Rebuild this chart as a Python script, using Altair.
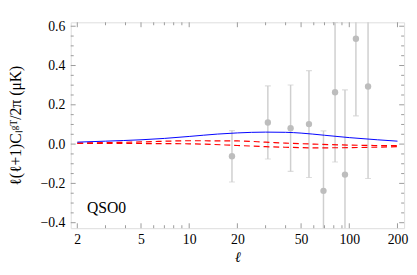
import altair as alt
import pandas as pd

# ---- data ----
curve_ell = [2, 3, 5, 7, 10, 15, 20, 30, 40, 50, 70, 100, 150, 200]
blue_val = [0.010, 0.015, 0.022, 0.029, 0.039, 0.051, 0.057, 0.061, 0.060, 0.056, 0.045, 0.033, 0.022, 0.015]
red1_ell = [2, 5, 10, 20, 30, 40, 60, 100, 200]
red1_val = [0.005, 0.011, 0.017, 0.016, 0.010, 0.005, 0.000, -0.005, -0.008]
red2_val = [0.004, 0.003, 0.0015, -0.007, -0.013, -0.016, -0.019, -0.018, -0.013]

pt_ell = [18.5, 31, 43, 56, 69, 81.5, 94, 110, 131]
pt_val = [-0.062, 0.110, 0.081, 0.102, -0.238, 0.264, -0.155, 0.536, 0.293]
pt_err = [0.131, 0.186, 0.220, 0.272, 0.305, 0.355, 0.431, 0.392, 0.468]

x_major = [2, 5, 10, 20, 50, 100, 200]
x_minor = [3, 4, 6, 7, 8, 9, 30, 40, 60, 70, 80, 90]
y_major = [-0.4, -0.2, 0.0, 0.2, 0.4, 0.6]
y_minor = [-0.35, -0.3, -0.25, -0.15, -0.1, -0.05, 0.05, 0.1, 0.15,
           0.25, 0.3, 0.35, 0.45, 0.5, 0.55]

label_text = ["QSO0"]
label_ell = [2.3]
label_val = [-0.325]

W, H = 340, 210
FONT = "Liberation Serif"
TICK = "#9a9a9a"

xs = alt.Scale(type="log", domain=[1.82, 220], nice=False)
ys = alt.Scale(domain=[-0.428, 0.62], nice=False, zero=False)

xaxis = alt.Axis(values=x_major, format="d", ticks=False, domain=False, grid=False,
                 labelFont=FONT, labelFontSize=14, labelColor="black", labelPadding=5,
                 labelFlush=False,
                 titleFont=FONT, titleFontSize=15, titleFontStyle="italic",
                 titleFontWeight="normal", titlePadding=3, titleColor="black")
yaxis = alt.Axis(values=y_major, format=".1f", ticks=False, domain=False, grid=False,
                 labelFont=FONT, labelFontSize=14, labelColor="black", labelPadding=6,
                 labelFlush=False,
                 titleFont=FONT, titleFontSize=16, titleFontWeight="normal",
                 titleColor="black", titleX=-48, titleY=H / 2, titleAngle=-90,
                 titleBaseline="bottom", titleAlign="center")

YT = "ℓ(ℓ+1)Cₗᵍᵀ/2π (μK)"
XT = "ℓ"

def X():
    return alt.X("ell:Q", scale=xs, axis=xaxis, title=XT)

def Y():
    return alt.Y("val:Q", scale=ys, axis=yaxis, title=YT)

blue = pd.DataFrame({"ell": curve_ell, "val": blue_val})
red = pd.concat([
    pd.DataFrame({"ell": red1_ell, "val": red1_val, "s": "a"}),
    pd.DataFrame({"ell": red1_ell, "val": red2_val, "s": "b"}),
])
pts = pd.DataFrame({"ell": pt_ell, "val": pt_val,
                    "lo": [v - e for v, e in zip(pt_val, pt_err)],
                    "hi": [v + e for v, e in zip(pt_val, pt_err)]})

bars = alt.Chart(pts).mark_rule(color="#cfcfcf", strokeWidth=1.5, clip=True).encode(
    x=X(), y=alt.Y("lo:Q", scale=ys, axis=yaxis, title=YT), y2="hi:Q")
cap_lo = alt.Chart(pts).mark_tick(color="#cfcfcf", size=6, thickness=1.2,
                                  orient="horizontal", clip=True).encode(
    x=X(), y=alt.Y("lo:Q", scale=ys, axis=yaxis, title=YT))
cap_hi = alt.Chart(pts).mark_tick(color="#cfcfcf", size=6, thickness=1.2,
                                  orient="horizontal", clip=True).encode(
    x=X(), y=alt.Y("hi:Q", scale=ys, axis=yaxis, title=YT))
dots = alt.Chart(pts).mark_circle(color="#bdbdbd", size=42, opacity=1, clip=True).encode(
    x=X(), y=Y())

blue_line = alt.Chart(blue).mark_line(color="#0000ff", strokeWidth=1, interpolate="monotone",
                                      clip=True).encode(x=X(), y=Y())
red_lines = alt.Chart(red).mark_line(color="#ff0000", strokeWidth=1.2, strokeDash=[6, 4],
                                     interpolate="monotone", clip=True).encode(
    x=X(), y=Y(), detail="s:N")

xt_maj = pd.DataFrame({"ell": x_major})
xt_min = pd.DataFrame({"ell": x_minor})
yt_maj = pd.DataFrame({"val": y_major})
yt_min = pd.DataFrame({"val": y_minor})

def xticks(df, L):
    b = alt.Chart(df).mark_rule(color=TICK, strokeWidth=1).encode(
        x=X(), y=alt.value(H), y2=alt.value(H - L))
    t = alt.Chart(df).mark_rule(color=TICK, strokeWidth=1).encode(
        x=X(), y=alt.value(0), y2=alt.value(L))
    return b + t

def yticks(df, L):
    l = alt.Chart(df).mark_rule(color=TICK, strokeWidth=1).encode(
        y=Y(), x=alt.value(0), x2=alt.value(L))
    r = alt.Chart(df).mark_rule(color=TICK, strokeWidth=1).encode(
        y=Y(), x=alt.value(W), x2=alt.value(W - L))
    return l + r

label = alt.Chart(pd.DataFrame({"ell": label_ell, "val": label_val, "t": label_text})).mark_text(
    align="left", baseline="middle", font=FONT, fontSize=16, color="black").encode(
    x=X(), y=Y(), text="t:N")

chart = alt.layer(
    bars, cap_lo, cap_hi, dots, red_lines, blue_line,
    xticks(xt_maj, 5), xticks(xt_min, 3), yticks(yt_maj, 5), yticks(yt_min, 3),
    label,
).properties(
    width=W, height=H,
    autosize=alt.AutoSizeParams(type="none"),
    padding={"left": 64, "top": 12, "right": 5, "bottom": 37},
).configure_view(stroke="#999999", strokeWidth=1.3).configure(background="white")

chart.save("out.html", embed_options={"renderer": "svg", "actions": False})
